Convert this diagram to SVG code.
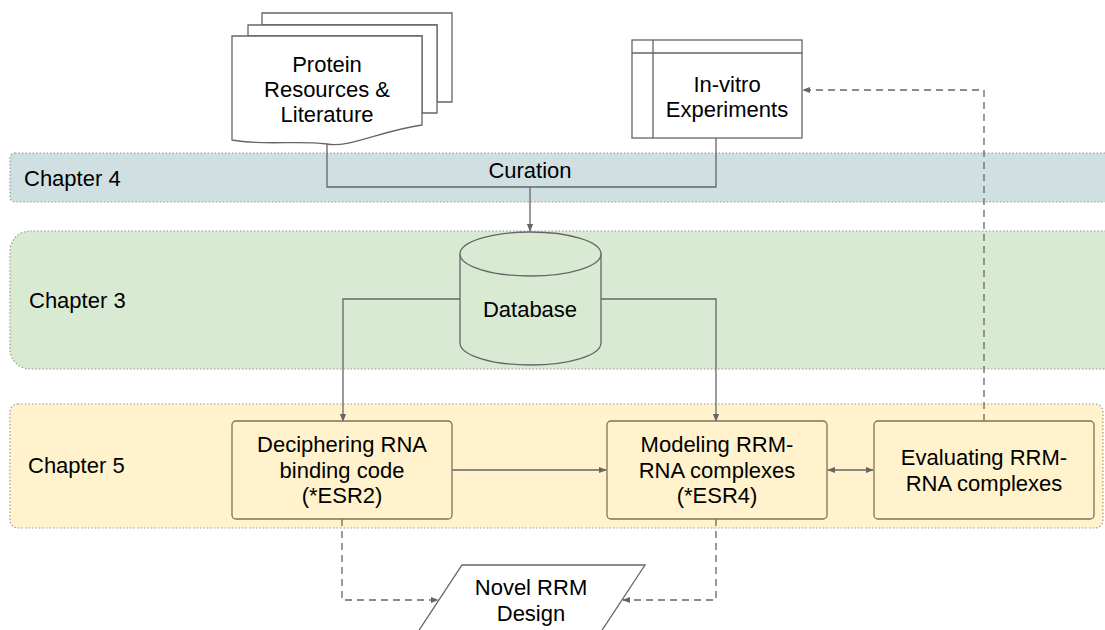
<svg xmlns="http://www.w3.org/2000/svg" width="1105" height="630" viewBox="0 0 1105 630">
<defs>
<style>
text{font-family:"Liberation Sans",Arial,sans-serif;font-size:22px;fill:#000}
.mid{text-anchor:middle}
.band{stroke:#999;stroke-width:1.2;stroke-dasharray:1.5 2}
.node{stroke:#666;stroke-width:1.3}
.box{fill:#fff2cc;stroke:#7f7358;stroke-width:1.3}
.c{fill:none;stroke:#666;stroke-width:1.3}
.d{fill:none;stroke:#666;stroke-width:1.3;stroke-dasharray:7 5}
</style>
<marker id="ah" viewBox="0 0 10 10" refX="9" refY="5" markerWidth="8" markerHeight="8" markerUnits="userSpaceOnUse" orient="auto-start-reverse">
<path d="M0,1 L10,5 L0,9 Z" fill="#666"/>
</marker>
</defs>
<rect width="1105" height="630" fill="#fff"/>
<g id="bands">
<g id="chapter4"><rect class="band" x="10" y="153" width="1120" height="49" rx="5" fill="#d0dfe2"/><text x="24" y="186">Chapter 4</text></g>
<g id="chapter3"><rect class="band" x="10" y="231" width="1120" height="138" rx="20" fill="#d9ead3"/><text x="29" y="308">Chapter 3</text></g>
<g id="chapter5"><rect class="band" x="10" y="404" width="1093" height="124" rx="8" fill="#fff2cc"/><text x="28" y="473">Chapter 5</text></g>
</g>
<g id="connectors">
<path class="c" d="M327,143 V187 H716 V138"/>
<path class="c" d="M530,187 V231" marker-end="url(#ah)"/>
<path class="c" d="M460,299 H343 V421" marker-end="url(#ah)"/>
<path class="c" d="M601,299 H716 V421" marker-end="url(#ah)"/>
<path class="c" d="M452,470 H606" marker-end="url(#ah)"/>
<path class="c" d="M828,470 H873" marker-start="url(#ah)" marker-end="url(#ah)"/>
<path class="d" d="M984,421 V90 H803" marker-end="url(#ah)"/>
<path class="d" d="M342,519 V600 H438" marker-end="url(#ah)"/>
<path class="d" d="M716,519 V600 H623" marker-end="url(#ah)"/>
</g>
<g id="protein">
<path class="node" fill="#fff" d="M262,13 H452 V102 H437 V25 H262 Z"/>
<path class="node" fill="#fff" d="M248,25 H437 V113 H422 V36 H248 Z"/>
<path class="node" fill="#fff" d="M232,36 H422 V125 C380,131 350,148 327,144 C295,140 265,146 232,140 Z"/>
<text class="mid" x="327" y="72">Protein</text>
<text class="mid" x="327" y="97">Resources &amp;</text>
<text class="mid" x="327" y="122">Literature</text>
</g>
<g id="invitro">
<rect class="node" fill="#fff" x="632" y="40" width="170" height="98"/>
<path class="c" d="M653,40 V138 M632,53 H802"/>
<text class="mid" x="727" y="92">In-vitro</text>
<text class="mid" x="727" y="117">Experiments</text>
</g>
<text id="curation" class="mid" x="530" y="178">Curation</text>
<g id="database">
<path class="node" fill="#d9ead3" d="M460,254 V343 A70.5,22 0 0 0 601,343 V254"/>
<ellipse class="node" fill="#d9ead3" cx="530.5" cy="254" rx="70.5" ry="22"/>
<text class="mid" x="530" y="317">Database</text>
</g>
<g id="deciphering">
<rect class="box" x="232" y="421" width="220" height="98" rx="4"/>
<text class="mid" x="342" y="452">Deciphering RNA</text>
<text class="mid" x="342" y="478">binding code</text>
<text class="mid" x="342" y="503">(*ESR2)</text>
</g>
<g id="modeling">
<rect class="box" x="607" y="421" width="220" height="98" rx="4"/>
<text class="mid" x="717" y="452">Modeling RRM-</text>
<text class="mid" x="717" y="478">RNA complexes</text>
<text class="mid" x="717" y="503">(*ESR4)</text>
</g>
<g id="evaluating">
<rect class="box" x="874" y="421" width="220" height="98" rx="4"/>
<text class="mid" x="984" y="465">Evaluating RRM-</text>
<text class="mid" x="984" y="491">RNA complexes</text>
</g>
<g id="novel">
<path class="node" fill="#fff" d="M462,565 H645 L589,650 H406 Z"/>
<text class="mid" x="531" y="595">Novel RRM</text>
<text class="mid" x="531" y="621">Design</text>
</g>
</svg>
